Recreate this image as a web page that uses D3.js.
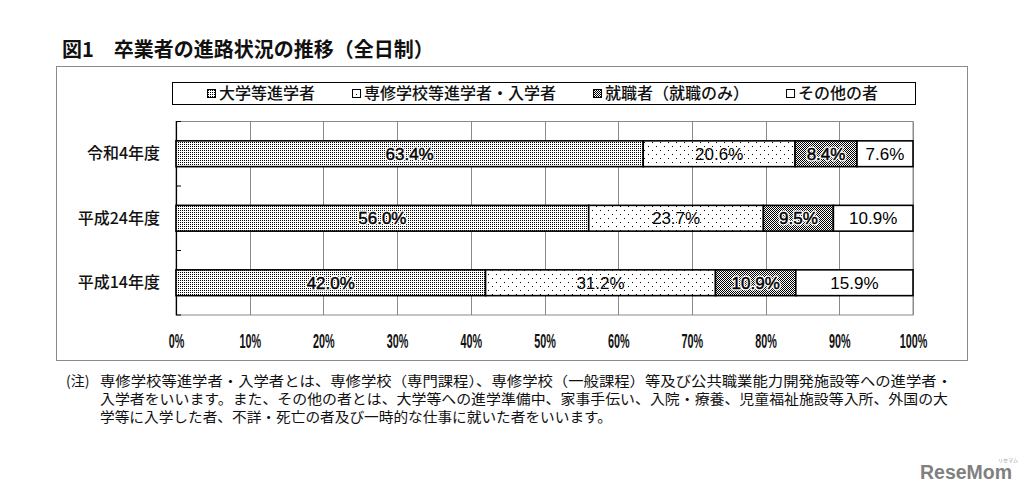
<!DOCTYPE html>
<html><head><meta charset="utf-8">
<script src="https://cdn.jsdelivr.net/npm/d3@7"></script>
<style>
html,body{margin:0;padding:0;background:#fff;}
svg{display:block;}
</style></head>
<body>
<svg id="chart" width="1030" height="497"></svg>
<script>
// ---- data ----
const categories = ["令和4年度", "平成24年度", "平成14年度"];
const seriesNames = ["大学等進学者", "専修学校等進学者・入学者", "就職者（就職のみ）", "その他の者"];
const university = [63.4, 56.0, 42.0];
const vocational = [20.6, 23.7, 31.2];
const employed   = [8.4, 9.5, 10.9];
const other      = [7.6, 10.9, 15.9];
const xTicks = [0, 10, 20, 30, 40, 50, 60, 70, 80, 90, 100];
const titleText = "図1　卒業者の進路状況の推移（全日制）";
const noteLabel = "(注)";
const noteLines = [
  "専修学校等進学者・入学者とは、専修学校（専門課程）、専修学校（一般課程）等及び公共職業能力開発施設等への進学者・",
  "入学者をいいます。また、その他の者とは、大学等への進学準備中、家事手伝い、入院・療養、児童福祉施設等入所、外国の大",
  "学等に入学した者、不詳・死亡の者及び一時的な仕事に就いた者をいいます。"
];

// ---- setup ----
const svg = d3.select("#chart");
const JP = "'Noto Sans CJK JP','Noto Sans',sans-serif";
const LAT = "'Liberation Sans',Arial,sans-serif";

const defs = svg.append("defs");
function pat(id, w, h, dots) {
  const p = defs.append("pattern").attr("id", id).attr("patternUnits", "userSpaceOnUse")
    .attr("width", w).attr("height", h);
  p.append("rect").attr("width", w).attr("height", h).attr("fill", "#fff");
  dots.forEach(d => p.append("rect").attr("x", d[0]).attr("y", d[1]).attr("width", 1).attr("height", 1).attr("fill", "#000"));
}
pat("pUniv", 2, 2, [[0, 0]]);
pat("pVoc", 8, 8, [[0, 2], [4, 6]]);
pat("pEmp", 2, 2, [[0, 0], [1, 1]]);
const fills = ["url(#pUniv)", "url(#pVoc)", "url(#pEmp)", "#fff"];
const haloNeeded = [true, false, true, false];

// table
const rows = categories.map((c, i) => ({cat: c, s0: university[i], s1: vocational[i], s2: employed[i], s3: other[i]}));
const keys = ["s0", "s1", "s2", "s3"];
const stacked = d3.stack().keys(keys)(rows);

// outer frame
svg.append("rect").attr("x", 56.5).attr("y", 66.5).attr("width", 911).attr("height", 294)
  .attr("fill", "none").attr("stroke", "#8a8a8a").attr("stroke-width", 1);

// title
svg.append("text").attr("x", 62).attr("y", 57).attr("font-family", JP).attr("font-weight", "bold")
  .attr("font-size", 20).attr("fill", "#111").text(titleText);

// scales
const x = d3.scaleLinear().domain([0, 100]).range([176, 913]).clamp(true);
const y = d3.scaleBand().domain(categories).range([121.5, 315]).paddingInner(0.6).paddingOuter(0.3);

// plot area border + gridlines
const [py0, py1] = y.range();
svg.append("rect").attr("x", x(0)).attr("y", py0).attr("width", x(100) - x(0)).attr("height", py1 - py0)
  .attr("fill", "#fff").attr("stroke", "#8a8a8a").attr("stroke-width", 1);
svg.append("g").selectAll("line").data(xTicks.slice(1)).join("line")
  .attr("x1", d => Math.round(x(d)) + 0.5).attr("x2", d => Math.round(x(d)) + 0.5)
  .attr("y1", py0).attr("y2", py1).attr("stroke", "#8a8a8a").attr("stroke-width", 1);

// left axis line with band-boundary ticks
svg.append("line").attr("x1", x(0) + 0.5).attr("x2", x(0) + 0.5).attr("y1", py0).attr("y2", py1)
  .attr("stroke", "#000").attr("stroke-width", 1.2);
const bounds = d3.range(categories.length + 1).map(i => py0 + i * y.step());
svg.append("g").selectAll("line").data(bounds).join("line")
  .attr("x1", x(0)).attr("x2", x(0) + 5).attr("y1", d => d).attr("y2", d => d)
  .attr("stroke", "#000").attr("stroke-width", 1);

// bars
const series = svg.append("g").selectAll("g").data(stacked).join("g")
  .attr("fill", (d, i) => fills[i]);
series.selectAll("rect").data(d => d).join("rect")
  .attr("x", d => x(d[0])).attr("width", d => x(d[1]) - x(d[0]))
  .attr("y", d => y(d.data.cat)).attr("height", y.bandwidth())
  .attr("stroke", "#000").attr("stroke-width", 1.6);

// bar labels (halo layer, then fill layer)
stacked.forEach((s, si) => {
  const g = svg.append("g");
  const place = sel => sel
    .attr("x", d => (x(d[0]) + x(d[1])) / 2)
    .attr("y", d => y(d.data.cat) + y.bandwidth() / 2)
    .attr("dy", "0.36em").attr("text-anchor", "middle")
    .attr("font-family", LAT).attr("font-size", 17)
    .text(d => (d[1] - d[0]).toFixed(1) + "%");
  if (haloNeeded[si]) {
    g.append("g").selectAll("text").data(s).join("text").call(place)
      .attr("fill", "#fff").attr("stroke", "#fff").attr("stroke-width", 3).attr("stroke-linejoin", "round");
    g.append("g").selectAll("text").data(s).join("text").call(place)
      .attr("fill", "#000").attr("stroke", "#000").attr("stroke-width", 0.5);
  } else {
    g.append("g").selectAll("text").data(s).join("text").call(place).attr("fill", "#000");
  }
});

// category labels
svg.append("g").selectAll("text").data(categories).join("text")
  .attr("x", 160).attr("y", d => y(d) + y.bandwidth() / 2).attr("dy", "0.35em")
  .attr("text-anchor", "end").attr("font-family", JP).attr("font-size", 16).attr("font-weight", 500)
  .attr("fill", "#111").text(d => d);

// x axis labels
const xa = svg.append("g").attr("transform", `translate(0,348)`)
  .call(d3.axisBottom(x).tickValues(xTicks).tickSize(0).tickPadding(0).tickFormat(d => d + "%"));
xa.select(".domain").remove();
xa.selectAll("text").attr("font-family", LAT).attr("font-size", 20).attr("font-weight", "bold").attr("fill", "#111")
  .attr("y", 0).attr("dy", 0).attr("transform", "scale(0.54,1)");

// legend
svg.append("rect").attr("x", 172.5).attr("y", 82.5).attr("width", 743).attr("height", 22)
  .attr("fill", "#fff").attr("stroke", "#000").attr("stroke-width", 1);
let lx = 207;
seriesNames.forEach((name, i) => {
  svg.append("rect").attr("x", lx + 0.5).attr("y", 89.5).attr("width", 8).attr("height", 8)
    .attr("fill", fills[i]).attr("stroke", "#000").attr("stroke-width", 1);
  const t = svg.append("text").attr("x", lx + 12).attr("y", 93.5).attr("dy", "0.36em")
    .attr("font-family", JP).attr("font-size", 16).attr("font-weight", 500).attr("fill", "#111").text(name);
  lx = lx + 12 + t.node().getComputedTextLength() + 37;
});

// notes
svg.append("text").attr("x", 66).attr("y", 386).attr("font-family", JP).attr("font-size", 14)
  .attr("fill", "#111").text(noteLabel);
const noteEnds = [952, 948, 612];
noteLines.forEach((ln, i) => {
  svg.append("text").attr("x", 100).attr("y", 386 + i * 18).attr("font-family", JP).attr("font-size", 14)
    .attr("fill", "#111").attr("textLength", noteEnds[i] - 100).attr("lengthAdjust", "spacingAndGlyphs").text(ln);
});

// watermark
svg.append("text").attr("x", 920).attr("y", 479).attr("font-family", LAT).attr("font-weight", "bold")
  .attr("font-size", 20).attr("fill", "#808080").attr("textLength", 92).attr("lengthAdjust", "spacingAndGlyphs").text("ReseMom");
svg.append("text").attr("x", 998).attr("y", 462).attr("font-family", JP)
  .attr("font-size", 5).attr("fill", "#999").text("リセマム");
</script>
</body></html>
